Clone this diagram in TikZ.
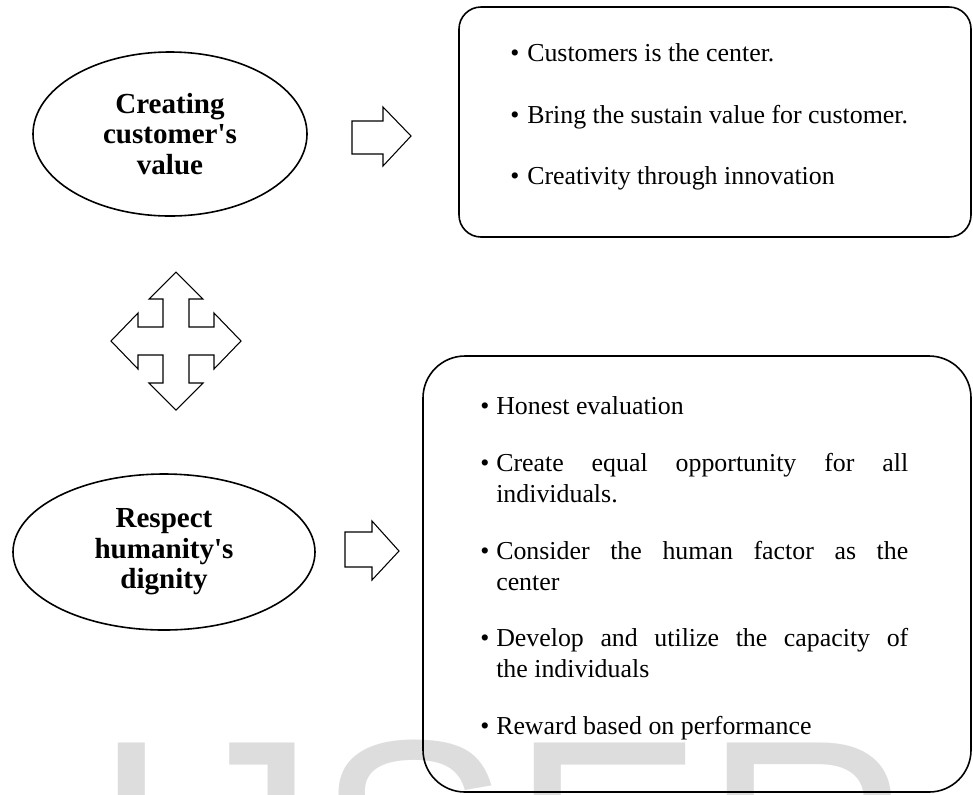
\documentclass[tikz,border=0pt]{standalone}
\usepackage{fontspec}
\setmainfont{Liberation Serif}[Ligatures=TeXOff]
\newfontfamily\wmfont{Liberation Sans}
\usetikzlibrary{shapes.geometric}
\definecolor{wmgray}{RGB}{221,221,221}
\hyphenpenalty=10000
\tolerance=10000
\hbadness=10000
\newcommand{\bul}[1]{\makebox[#1][l]{\textbullet}}
\tikzset{
  idea/.style={ellipse,draw,line width=1.2pt,inner sep=0pt,align=center,
    font=\fontsize{21.8}{22.9}\selectfont\bfseries},
  card/.style={draw,line width=1.2pt,inner sep=0pt},
  blockarrow/.style={draw,line width=0.8pt,line join=miter},
  point/.style={inner sep=0pt,anchor=base west,font=\fontsize{19.4}{23.25}\selectfont},
  longpoint/.style={inner sep=0pt,anchor=north west,text width=321pt,align=justify,
    font=\fontsize{19.4}{23.25}\selectfont,
    execute at begin node={\hangindent=12pt\hangafter=1\relax}},
}

\begin{document}
\begin{tikzpicture}[x=0.75pt,y=-0.75pt]
  \useasboundingbox (0,0) rectangle (973,794);
  \clip (0,0) rectangle (973,794);
  % watermark
  \node[anchor=base west,inner sep=0pt,text=wmgray,
    font=\wmfont\fontsize{217.5}{217.5}\selectfont] (mark) at (91,942) {IJSER};

  % the two ideas
  \node[idea,minimum width=205.5pt,minimum height=123pt] (value) at (170,134)
    {Creating\\customer's\\value};
  \node[idea,minimum width=226.5pt,minimum height=117pt] (dignity) at (164,552)
    {Respect\\humanity's\\dignity};

  % boxes
  \node[card,rounded corners=16.5pt,minimum width=384pt,minimum height=172.5pt]
    (custbox) at (715,122) {};
  \node[card,rounded corners=31.5pt,minimum width=411pt,minimum height=327pt]
    (humanbox) at (697,574) {};

  % block arrows
  \draw[blockarrow] (352,121) -- (383,121) -- (383,107) -- (411,136)
    -- (383,166) -- (383,154) -- (352,154) -- cycle;
  \draw[blockarrow] (345,532) -- (372,532) -- (372,521) -- (399,551)
    -- (372,580) -- (372,567) -- (345,567) -- cycle;
  \draw[blockarrow,shift={(176,341)}] (0,-69) -- (27,-42) -- (13,-42) -- (13,-14)
    -- (38,-14) -- (38,-28) -- (65,0) -- (38,28) -- (38,14) -- (13,14)
    -- (13,42) -- (27,42) -- (0,69) -- (-27,42) -- (-13,42) -- (-13,14)
    -- (-38,14) -- (-38,28) -- (-65,0) -- (-38,-28) -- (-38,-14) -- (-13,-14)
    -- (-13,-42) -- (-27,-42) -- cycle;

  % points of the first idea
  \node[point] (cust1) at (510,61) {\bul{12.75pt}Customers is the center.};
  \node[point] (cust2) at (510,123) {\bul{12.75pt}Bring the sustain value for customer.};
  \node[point] (cust3) at (510,184) {\bul{12.75pt}Creativity through innovation};

  % points of the second idea
  \node[longpoint] (human1) at (480,396.3) {\bul{12pt}Honest evaluation};
  \node[longpoint] (human2) at (480,453.3)
    {\bul{12pt}Create equal opportunity for all\linebreak individuals.};
  \node[longpoint] (human3) at (480,541.3)
    {\bul{12pt}Consider the human factor as the\linebreak center};
  \node[longpoint] (human4) at (480,628.3)
    {\bul{12pt}Develop and utilize the capacity of\linebreak the individuals};
  \node[longpoint] (human5) at (480,716.3) {\bul{12pt}Reward based on performance};
\end{tikzpicture}
\end{document}
